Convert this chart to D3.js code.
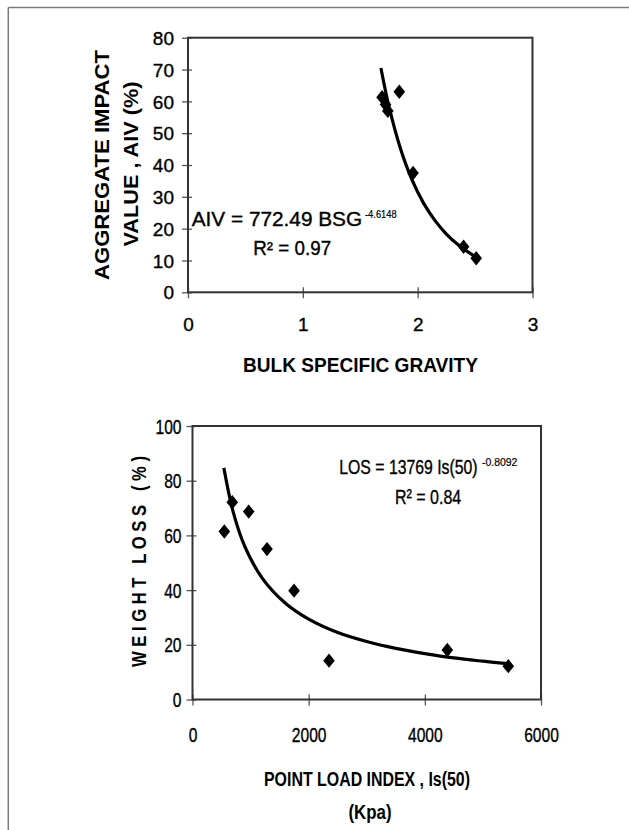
<!DOCTYPE html>
<html><head><meta charset="utf-8">
<script src="https://cdn.jsdelivr.net/npm/d3@7"></script>
<style>
body{margin:0;background:#fff}
svg{display:block}
text{font-family:"Liberation Sans",Arial,Helvetica,sans-serif;fill:#000}
</style>
</head><body>
<svg id="c" width="629" height="830"></svg>
<script>
// ---------- data ----------
const bsgValues = [1.69, 1.72, 1.74, 1.84, 1.96, 2.40, 2.51];
const aivValues = [61.3, 59.0, 57.0, 63.0, 37.5, 14.3, 10.7];
const bsgTicks = [0, 1, 2, 3];
const aivTicks = [0, 10, 20, 30, 40, 50, 60, 70, 80];
const aivFitX = [1.68, 1.75, 1.85, 1.95, 2.05, 2.15, 2.25, 2.35, 2.45, 2.52];
const aivFitY = [70.5, 58.4, 45.2, 35.4, 28.1, 22.6, 18.3, 15.0, 12.4, 10.9];

const isValues = [548, 685, 968, 1283, 1748, 2350, 4387, 5437];
const lossValues = [61.4, 72.1, 68.7, 55.0, 39.8, 14.2, 18.1, 12.2];
const isTicks = [0, 2000, 4000, 6000];
const lossTicks = [0, 20, 40, 60, 80, 100];
const lossFitX = [540, 700, 900, 1200, 1600, 2000, 2500, 3000, 3500, 4000, 4500, 5000, 5470];
const lossFitY = [84.7, 68.6, 56.0, 44.4, 35.2, 29.4, 24.5, 21.2, 18.7, 16.8, 15.2, 14.0, 13.0];

// ---------- drawing ----------
const svg = d3.select('#c');

// outer frame (top and left edges visible)
svg.append('line').attr('x1', 8.3).attr('x2', 629).attr('y1', 7.5).attr('y2', 7.5)
  .attr('stroke', '#7a7a7a').attr('stroke-width', 1.5);
svg.append('line').attr('x1', 8.3).attr('x2', 8.3).attr('y1', 7.5).attr('y2', 830)
  .attr('stroke', '#7a7a7a').attr('stroke-width', 1.5);

const diamond = 'M0,-7.2L5.8,0L0,7.2L-5.8,0Z';

function panel(opt) {
  const g = svg.append('g');
  const x = d3.scaleLinear().domain(opt.xDomain).range([opt.left, opt.right]);
  const y = d3.scaleLinear().domain(opt.yDomain).range([opt.bottom, opt.top]);
  const sx = opt.condense;

  // left axis
  const ya = g.append('g').attr('transform', `translate(${opt.left},0)`)
    .call(d3.axisLeft(y).tickValues(opt.yTicks).tickSize(6).tickFormat(d3.format('d')));
  ya.select('.domain').remove();
  ya.selectAll('line').attr('x1', -6).attr('x2', 4).attr('stroke', '#555').attr('stroke-width', 1.3);
  ya.selectAll('text').attr('x', -opt.yLabGap / sx).attr('dy', '0.35em')
    .attr('transform', `scale(${sx},1)`)
    .style('font-size', opt.tickFont + 'px').attr('fill', '#000')
    .attr('stroke', '#000').attr('stroke-width', 0.35);

  // bottom axis
  const xa = g.append('g').attr('transform', `translate(0,${opt.bottom})`)
    .call(d3.axisBottom(x).tickValues(opt.xTicks).tickSize(6).tickFormat(d3.format('d')));
  xa.select('.domain').remove();
  xa.selectAll('line').attr('y1', -5).attr('y2', 6).attr('stroke', '#555').attr('stroke-width', 1.3);
  xa.selectAll('text').attr('y', opt.xLabOff).attr('dy', 0)
    .attr('transform', `scale(${sx},1)`)
    .attr('x', 0)
    .style('font-size', opt.tickFont + 'px').attr('fill', '#000')
    .attr('stroke', '#000').attr('stroke-width', 0.35);

  // plot box
  g.append('rect').attr('x', opt.left).attr('y', opt.top)
    .attr('width', opt.right - opt.left).attr('height', opt.bottom - opt.top)
    .attr('fill', 'none').attr('stroke', '#333').attr('stroke-width', 2);

  // trend line
  const fit = opt.fitX.map((v, i) => [v, opt.fitY[i]]);
  g.append('path').datum(fit)
    .attr('d', d3.line().x(d => x(d[0])).y(d => y(d[1])).curve(d3.curveCatmullRom))
    .attr('fill', 'none').attr('stroke', '#000').attr('stroke-width', 3.2);

  // points
  const pts = opt.px.map((v, i) => [v, opt.py[i]]);
  g.selectAll('path.pt').data(pts).enter().append('path').attr('class', 'pt')
    .attr('d', diamond)
    .attr('transform', d => `translate(${x(d[0])},${y(d[1])})`)
    .attr('fill', '#000');
  return g;
}

panel({
  xDomain: [0, 3], yDomain: [0, 80],
  left: 188, right: 532.5, top: 37.7, bottom: 292.3,
  xTicks: bsgTicks, yTicks: aivTicks,
  tickFont: 19, condense: 1, yLabGap: 14, xLabOff: 38.5,
  fitX: aivFitX, fitY: aivFitY, px: bsgValues, py: aivValues
});

panel({
  xDomain: [0, 6000], yDomain: [0, 100],
  left: 192.5, right: 541, top: 426, bottom: 699.5,
  xTicks: isTicks, yTicks: lossTicks,
  tickFont: 20, condense: 0.78, yLabGap: 11, xLabOff: 42.5,
  fitX: lossFitX, fitY: lossFitY, px: isValues, py: lossValues
});

// ---------- text ----------
function txt(s, x, y, size, opts = {}) {
  const t = svg.append('text').text(s)
    .attr('transform', `translate(${x},${y})` + (opts.rot ? ' rotate(-90)' : ''))
    .style('font-size', size + 'px')
    .style('font-weight', opts.bold ? 'bold' : 'normal')
    .style('white-space', 'pre')
    .attr('text-anchor', opts.anchor || 'start');
  if (!opts.bold) t.attr('stroke', '#000').attr('stroke-width', 0.35);
  if (opts.len) t.attr('textLength', opts.len).attr('lengthAdjust', 'spacingAndGlyphs');
  return t;
}

// horizontally condensed text (scaled glyphs)
function ctxt(s, x, y, size, sx, sw) {
  return svg.append('text').text(s)
    .attr('transform', `translate(${x},${y}) scale(${sx},1)`)
    .style('font-size', size + 'px')
    .attr('stroke', '#000').attr('stroke-width', sw);
}

// top chart titles
txt('AGGREGATE IMPACT', 109, 165, 21, {bold: true, rot: true, anchor: 'middle', len: 230});
txt('VALUE , AIV (%)', 137.5, 164, 21, {bold: true, rot: true, anchor: 'middle', len: 165});
txt('BULK SPECIFIC GRAVITY', 360.5, 372, 20, {bold: true, anchor: 'middle', len: 235});

// top annotation
ctxt('AIV = 772.49 BSG', 191.7, 226, 20, 1.04, 0.35);
ctxt('-4.6148', 365, 218, 11, 0.85, 0.2);
ctxt('R² = 0.97', 253.3, 255, 20, 0.94, 0.35);

// bottom chart titles
txt('W E I G H T   L O S S   ( % )', 145.5, 561.5, 20, {bold: true, rot: true, anchor: 'middle', len: 211});
txt('POINT LOAD INDEX , Is(50)', 367, 786, 20, {bold: true, anchor: 'middle', len: 206});
txt('(Kpa)', 370, 819, 20, {bold: true, anchor: 'middle', len: 43});

// bottom annotation
ctxt('LOS = 13769 Is(50)', 339.3, 474, 20, 0.79, 0.35);
ctxt('-0.8092', 482, 466, 11, 0.95, 0.2);
ctxt('R² = 0.84', 395, 504, 20, 0.8, 0.35);
</script>
</body></html>
